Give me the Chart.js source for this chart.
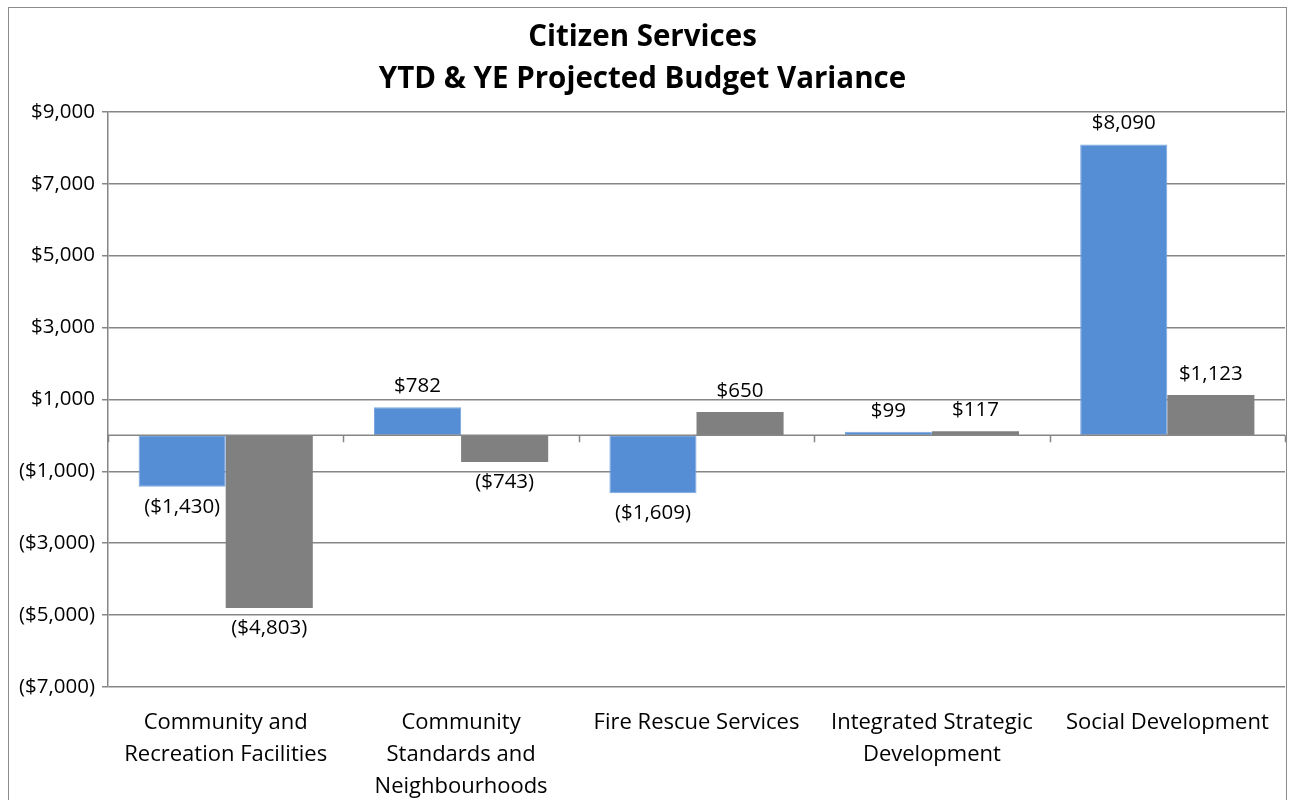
<!DOCTYPE html>
<html>
<head>
<meta charset="utf-8">
<script src="https://cdn.jsdelivr.net/npm/chart.js@4"></script>
<style>
  html, body { margin: 0; padding: 0; background: #fff; }
  #wrap { position: relative; width: 1290px; height: 800px; overflow: hidden; }
  #frame { position: absolute; left: 8px; top: 7px; width: 1279px; height: 820px; border: 1.5px solid #8c8c8c; box-sizing: border-box; }
  canvas { position: absolute; left: 0; top: 0; }
</style>
</head>
<body>
<div id="wrap">
  <div id="frame"></div>
  <canvas id="chart" width="1290" height="800"></canvas>
</div>
<script>
const FONT = "'Open Sans', 'Noto Sans', sans-serif";

const categories = [
  ["Community and", "Recreation Facilities"],
  ["Community", "Standards and", "Neighbourhoods"],
  "Fire Rescue Services",
  ["Integrated Strategic", "Development"],
  "Social Development"
];
const ytdVariance = [-1430, 782, -1609, 99, 8090];
const yeProjected = [-4803, -743, 650, 117, 1123];
const yMin = -7000, yMax = 9000, yStep = 2000;

function money(v) {
  const s = "$" + Math.abs(v).toLocaleString("en-US");
  return v < 0 ? "(" + s + ")" : s;
}

// zero line with category tick marks, plus value labels outside bar ends
const extras = {
  id: "extras",
  afterDatasetsDraw(chart) {
    const { ctx, chartArea, scales } = chart;
    const y0 = scales.y.getPixelForValue(0);
    ctx.save();
    ctx.strokeStyle = "#868686";
    ctx.lineWidth = 1.5;
    ctx.beginPath();
    ctx.moveTo(chartArea.left, y0);
    ctx.lineTo(chartArea.right, y0);
    const n = categories.length;
    const step = (chartArea.right - chartArea.left) / n;
    for (let i = 0; i <= n; i++) {
      const px = Math.round(chartArea.left + step * i) + 0.5;
      ctx.moveTo(px, y0);
      ctx.lineTo(px, y0 + 7);
    }
    ctx.stroke();

    ctx.fillStyle = "#000";
    ctx.font = "20.5px " + FONT;
    ctx.textAlign = "center";
    ctx.textBaseline = "middle";
    chart.data.datasets.forEach((ds, di) => {
      chart.getDatasetMeta(di).data.forEach((bar, i) => {
        const v = ds.data[i];
        const ty = v >= 0 ? bar.y - 21 : bar.y + 20;
        ctx.fillText(money(v), bar.x, ty);
      });
    });
    ctx.restore();
  }
};

new Chart(document.getElementById("chart"), {
  type: "bar",
  data: {
    labels: categories,
    datasets: [
      { label: "YTD Variance", data: ytdVariance, backgroundColor: "#558ed5", borderColor: "#7aa6e0", borderWidth: 1, borderSkipped: false },
      { label: "YE Projected Variance", data: yeProjected, backgroundColor: "#808080" }
    ]
  },
  options: {
    responsive: false,
    animation: false,
    layout: { padding: { left: 0, right: 5, top: 0, bottom: 0 } },
    datasets: { bar: { categoryPercentage: 0.74, barPercentage: 1.0 } },
    plugins: {
      legend: { display: false },
      tooltip: { enabled: false },
      title: {
        display: true,
        text: ["Citizen Services", "YTD & YE Projected Budget Variance"],
        color: "#000",
        font: { family: FONT, size: 29.5, weight: "bold", lineHeight: 1.42 },
        padding: { top: 17, bottom: 11 }
      }
    },
    scales: {
      x: {
        grid: { display: false, drawTicks: false },
        border: { display: false },
        ticks: {
          color: "#000",
          padding: 20,
          maxRotation: 0,
          autoSkip: false,
          font: { family: FONT, size: 22, lineHeight: 1.45 }
        },
        afterFit(scale) { scale.height = 113; }
      },
      y: {
        min: yMin,
        max: yMax,
        ticks: {
          stepSize: yStep,
          color: "#000",
          padding: 7,
          font: { family: FONT, size: 20.5 },
          callback: v => money(v)
        },
        grid: { color: "#868686", lineWidth: 1.5, tickLength: 6 },
        border: { color: "#868686", width: 1.5 },
        afterFit(scale) { scale.width = 108; }
      }
    }
  },
  plugins: [extras]
});
</script>
</body>
</html>
